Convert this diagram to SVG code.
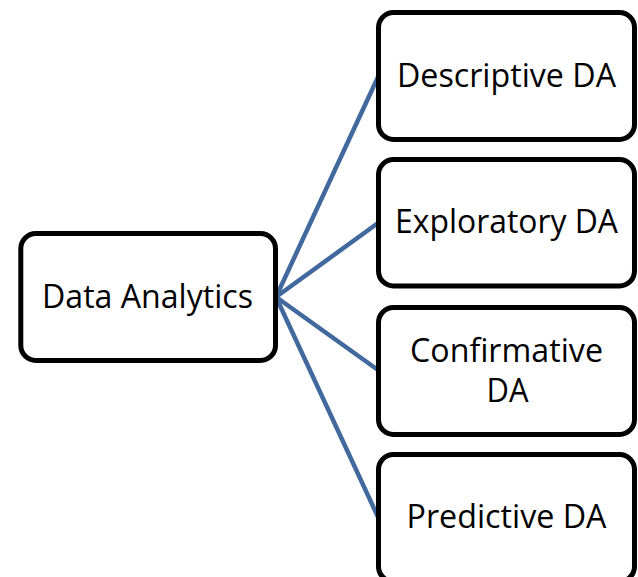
<svg xmlns="http://www.w3.org/2000/svg" width="638" height="577" viewBox="0 0 638 577">
  <style>
    .box { fill: #ffffff; stroke: #000000; stroke-width: 5; }
    .lbl { font-family: "Open Sans", "Liberation Sans", sans-serif; font-size: 32px; fill: #000000; text-anchor: middle; }
    .conn { stroke: #42699E; stroke-width: 4.5; fill: none; stroke-linecap: round; }
  </style>
  <rect width="638" height="577" fill="#ffffff"/>
  <g id="connectors">
    <line class="conn" x1="276" y1="297" x2="378" y2="77"/>
    <line class="conn" x1="276" y1="297" x2="378" y2="223"/>
    <line class="conn" x1="276" y1="297" x2="378" y2="370"/>
    <line class="conn" x1="276" y1="297" x2="378" y2="517"/>
  </g>
  <g id="data-analytics">
    <rect class="box" x="20.8" y="233.5" width="254.7" height="127" rx="15"/>
    <text class="lbl" x="147.5" y="308" textLength="211" lengthAdjust="spacingAndGlyphs">Data Analytics</text>
  </g>
  <g id="descriptive">
    <rect class="box" x="378.5" y="12.5" width="256" height="127" rx="15"/>
    <text class="lbl" x="506.5" y="87" textLength="219" lengthAdjust="spacingAndGlyphs">Descriptive DA</text>
  </g>
  <g id="exploratory">
    <rect class="box" x="378.5" y="159.5" width="256" height="126.5" rx="15"/>
    <text class="lbl" x="506.5" y="233" textLength="223" lengthAdjust="spacingAndGlyphs">Exploratory DA</text>
  </g>
  <g id="confirmative">
    <rect class="box" x="378.5" y="307.5" width="256" height="127" rx="15"/>
    <text class="lbl" x="506.5" y="361.7" textLength="193" lengthAdjust="spacingAndGlyphs">Confirmative</text>
    <text class="lbl" x="507.5" y="401.7" textLength="42" lengthAdjust="spacingAndGlyphs">DA</text>
  </g>
  <g id="predictive">
    <rect class="box" x="378.5" y="454.5" width="256" height="127" rx="15"/>
    <text class="lbl" x="506.5" y="528" textLength="200" lengthAdjust="spacingAndGlyphs">Predictive DA</text>
  </g>
</svg>
